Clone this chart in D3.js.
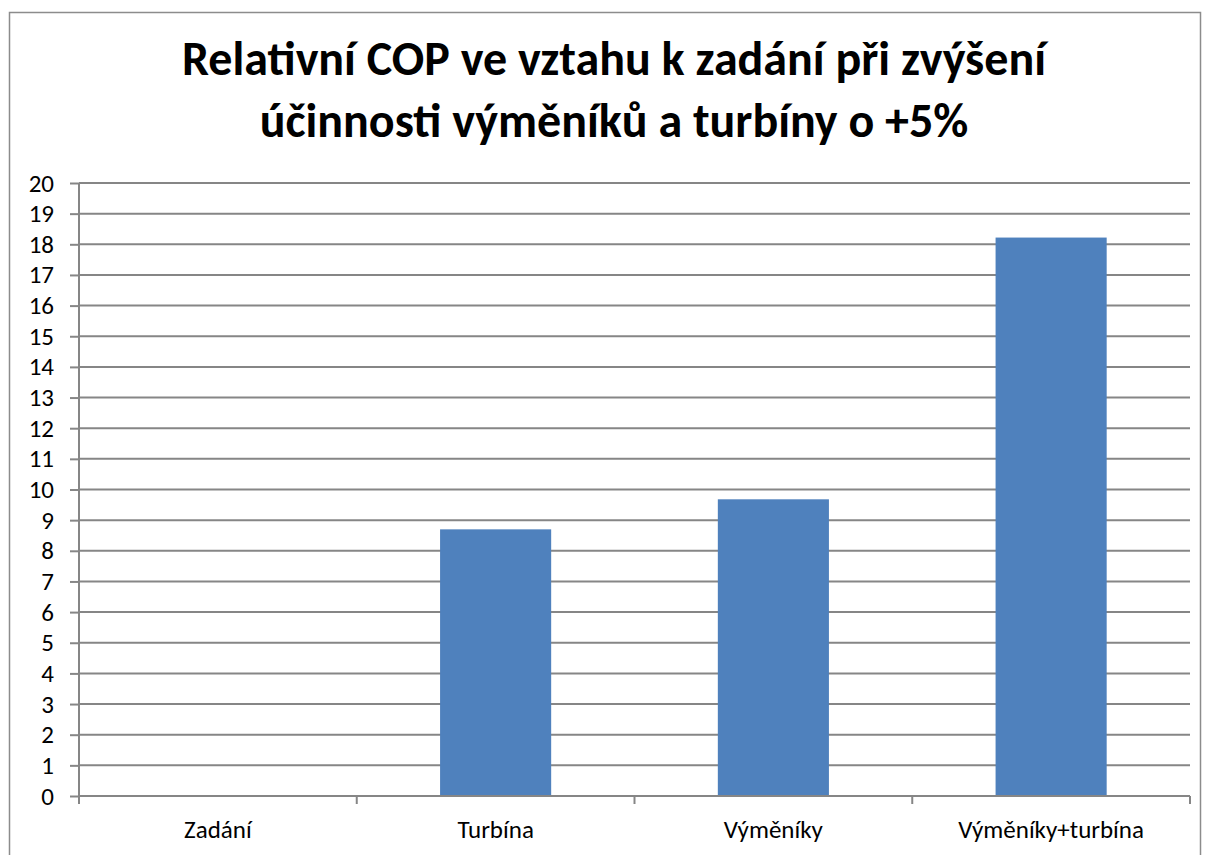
<!DOCTYPE html>
<html>
<head>
<meta charset="utf-8">
<script src="https://cdn.jsdelivr.net/npm/d3@7"></script>
<style>
  body { margin: 0; background: #fff; }
  svg { display: block; font-family: Carlito, Calibri, Lato, sans-serif; }
  .grid line { stroke: #868686; stroke-width: 2; }
  .axis path, .axis line { stroke: #868686; stroke-width: 2; }
  .axis text { fill: #000; }
</style>
</head>
<body>
<div id="chart"></div>
<script>
(function() {
    var width = 1210,
        height = 855;
    var margin = {top: 183, right: 20, bottom: 59, left: 79};

    var titleLines = ["Relativní COP ve vztahu k zadání při zvýšení", "účinnosti výměníků a turbíny o +5%"];
    var categories = ["Zadání", "Turbína", "Výměníky", "Výměníky+turbína"];
    var values = [0, 8.7, 9.68, 18.22];
    var yTicks = d3.range(0, 21, 1);

    var svg = d3.select("#chart").append("svg")
        .attr("width", width)
        .attr("height", height);

    // chart frame
    svg.append("rect")
        .attr("x", 9.5)
        .attr("y", 12.5)
        .attr("width", 1191)
        .attr("height", 860)
        .attr("fill", "none")
        .attr("stroke", "#8c8c8c")
        .attr("stroke-width", 1.5);

    var plotW = 1190 - margin.left,
        plotH = 796 - margin.top;

    var plot = svg.append("g")
        .attr("transform", "translate(" + margin.left + "," + margin.top + ")");

    var x = d3.scaleBand()
        .domain(categories)
        .range([0, plotW])
        .paddingInner(0.6)
        .paddingOuter(0.3);

    var y = d3.scaleLinear()
        .domain([0, 20])
        .range([plotH, 0]);

    // horizontal gridlines
    plot.append("g")
        .attr("class", "grid")
        .selectAll("line")
        .data(yTicks.filter(function(d) { return d > 0; }))
        .enter().append("line")
        .attr("x1", 0)
        .attr("x2", plotW)
        .attr("y1", function(d) { return y(d); })
        .attr("y2", function(d) { return y(d); });

    // bars
    plot.selectAll("rect.bar")
        .data(values)
        .enter().append("rect")
        .attr("class", "bar")
        .attr("x", function(d, i) { return x(categories[i]); })
        .attr("width", x.bandwidth())
        .attr("y", function(d) { return y(d); })
        .attr("height", function(d) { return plotH - y(d); })
        .attr("fill", "#4f81bd");

    // y axis
    var yAxis = d3.axisLeft(y)
        .tickValues(yTicks)
        .tickSize(9)
        .tickPadding(16)
        .tickFormat(d3.format("d"));

    plot.append("g")
        .attr("class", "axis y-axis")
        .call(yAxis)
        .attr("font-family", null)
        .attr("font-size", null)
        .call(function(g) { g.select(".domain").attr("d", "M0,0V" + plotH); })
        .selectAll("text")
        .style("font-size", "25px");

    // x axis with ticks between categories
    var catScale = d3.scaleLinear().domain([0, categories.length]).range([0, plotW]);
    var xAxis = plot.append("g")
        .attr("class", "axis x-axis")
        .attr("transform", "translate(0," + plotH + ")");

    xAxis.append("path")
        .attr("d", "M0,0H" + plotW)
        .attr("fill", "none");

    xAxis.selectAll("line")
        .data(d3.range(0, categories.length + 1))
        .enter().append("line")
        .attr("x1", function(d) { return catScale(d); })
        .attr("x2", function(d) { return catScale(d); })
        .attr("y1", 0)
        .attr("y2", 8);

    xAxis.selectAll("text")
        .data(categories)
        .enter().append("text")
        .attr("x", function(d, i) { return catScale(i + 0.5); })
        .attr("y", 42)
        .attr("text-anchor", "middle")
        .style("font-size", "25px")
        .text(function(d) { return d; });

    // title
    svg.append("g")
        .selectAll("text")
        .data(titleLines)
        .enter().append("text")
        .attr("x", 614)
        .attr("y", function(d, i) { return 75 + i * 62; })
        .attr("text-anchor", "middle")
        .style("font-size", "48px")
        .style("font-weight", "bold")
        .text(function(d) { return d; });
})();
</script>
</body>
</html>
